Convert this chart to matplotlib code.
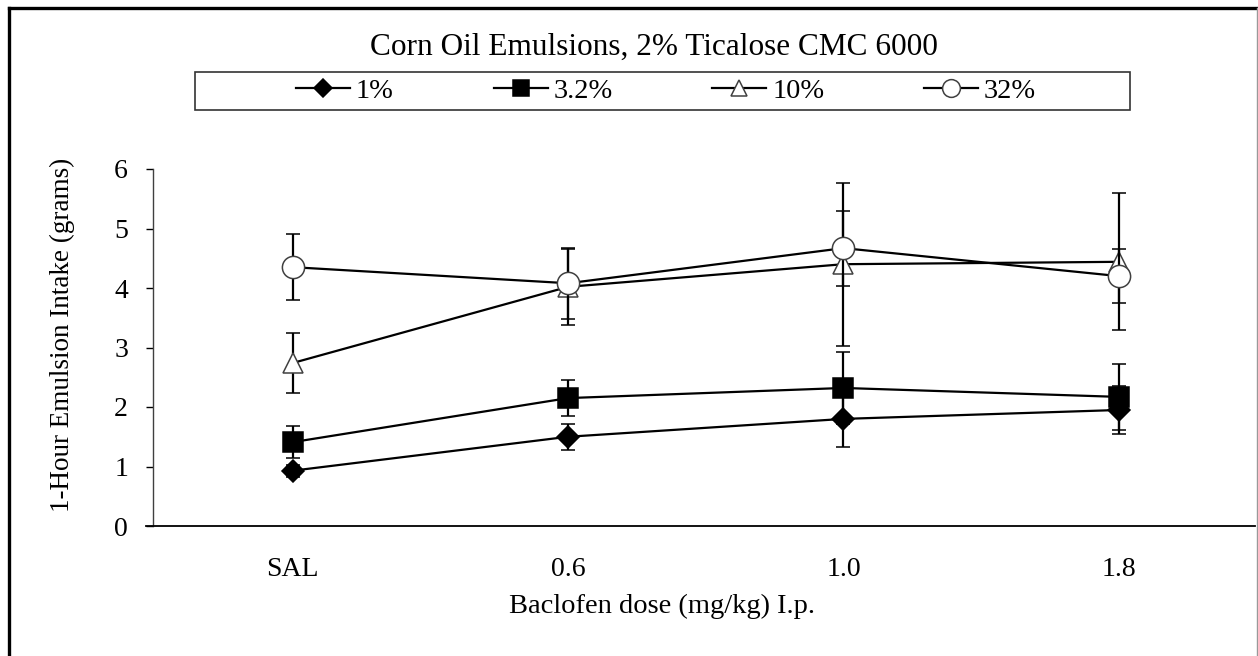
import matplotlib
matplotlib.use("Agg")
import matplotlib.pyplot as plt
from matplotlib.lines import Line2D

plt.rcParams['font.family'] = ['Liberation Serif', 'DejaVu Serif']

categories = ["SAL", "0.6", "1.0", "1.8"]
series_names = ["1%", "3.2%", "10%", "32%"]
vals_1 = [0.93, 1.50, 1.80, 1.95]
err_1 = [0.10, 0.22, 0.47, 0.40]
vals_3_2 = [1.41, 2.15, 2.32, 2.17]
err_3_2 = [0.27, 0.30, 0.60, 0.55]
vals_10 = [2.74, 4.02, 4.40, 4.44]
err_10 = [0.51, 0.64, 1.37, 1.15]
vals_32 = [4.35, 4.08, 4.67, 4.20]
err_32 = [0.55, 0.60, 0.63, 0.46]

W, H = 1258, 656
fig = plt.figure(figsize=(W / 100, H / 100), dpi=100)
ax = fig.add_axes([153 / W, 1 - 526 / H, (1255 - 153) / W, (526 - 169) / H])

x = list(range(len(categories)))
styles = [
    dict(marker='D', ms=11.5, mfc='black', mec='black'),
    dict(marker='s', ms=14, mfc='black', mec='black'),
    dict(marker='^', ms=14, mfc='white', mec='#404040'),
    dict(marker='o', ms=16, mfc='white', mec='#404040'),
]
data = [(vals_1, err_1), (vals_3_2, err_3_2), (vals_10, err_10), (vals_32, err_32)]
handles = []
for i, ((v, e), st, name) in enumerate(zip(data, styles, series_names)):
    ax.errorbar(x, v, yerr=e, color='black', lw=1.6, elinewidth=1.6,
                capsize=4.8, capthick=1.6, zorder=3 + i, mew=1.1, **st)
    handles.append(Line2D([], [], color='black', lw=1.6, mew=1.1,
                          **{**st, 'ms': st['ms'] * 0.8}))

ax.set_xlim(-0.508, 3.495)
ax.set_ylim(0, 6)
ax.set_yticks([0, 1, 2, 3, 4, 5, 6])
ax.set_xticks(x)
ax.set_xticklabels(categories)
ax.tick_params(axis='y', direction='out', length=5, width=1, pad=13, labelsize=20)
ax.tick_params(axis='x', length=0, pad=22, labelsize=20)
for s in ['top', 'right']:
    ax.spines[s].set_visible(False)
ax.spines['left'].set_linewidth(1)
ax.spines['bottom'].set_linewidth(1.3)
ax.spines['bottom'].set_bounds(-0.532, 3.495)
ax.spines['left'].set_color('#404040')

fig.text(654 / W, 1 - 47 / H, "Corn Oil Emulsions, 2% Ticalose CMC 6000",
         ha='center', va='center', fontsize=22.5)
fig.text(62 / W, 1 - 335 / H, "1-Hour Emulsion Intake (grams)",
         ha='center', va='center', rotation=90, fontsize=19.5)
fig.text(662 / W, 1 - 606 / H, "Baclofen dose (mg/kg) I.p.",
         ha='center', va='center', fontsize=20.5)

# legend box
fig.patches.append(plt.Rectangle((195 / W, 1 - 110 / H), (1130 - 195) / W, 38 / H,
                                 transform=fig.transFigure, fill=False,
                                 edgecolor='#333333', lw=1.2))
fig.legend(handles, series_names, loc='center', bbox_to_anchor=(666 / W, 1 - 91 / H),
           ncol=4, frameon=False, fontsize=20.5, handlelength=1.9,
           handletextpad=0.2, columnspacing=3.5, borderaxespad=0)

# outer chart border
fig.add_artist(Line2D([9 / W, 9 / W], [0, 1 - 8 / H], transform=fig.transFigure,
                      color='black', lw=2.4))
fig.add_artist(Line2D([9 / W, 1], [1 - 8 / H, 1 - 8 / H], transform=fig.transFigure,
                      color='black', lw=2.4))
fig.add_artist(Line2D([1256.5 / W, 1256.5 / W], [0, 1 - 8 / H], transform=fig.transFigure,
                      color='#999999', lw=1))

fig.savefig("out.png", dpi=100)
